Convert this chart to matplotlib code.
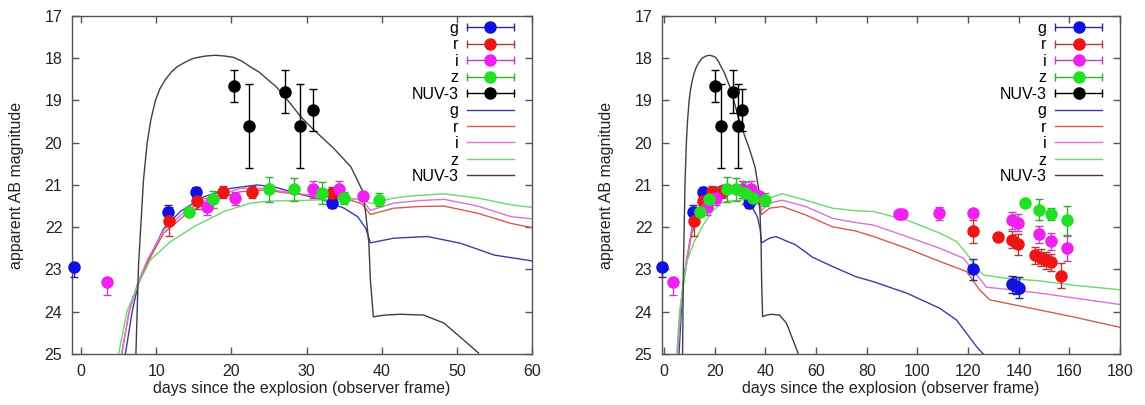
"""Light curves of the transient with model predictions, early and full coverage"""

import numpy as np
import matplotlib.pyplot as plt
from matplotlib.container import ErrorbarContainer
from matplotlib.legend_handler import HandlerBase
from matplotlib.lines import Line2D

plt.rcParams['font.family'] = ['Liberation Sans', 'DejaVu Sans']

# observed photometry: days since explosion, AB mag,
# error towards brighter (minus) and fainter (plus) magnitudes
g_t = [-1.0, 11.6, 15.3, 33.4, 122.1, 137.3, 138.8, 140.2]
g_mag = [22.93, 21.63, 21.17, 21.42, 23.00, 23.35, 23.39, 23.43]
g_err_minus = [0.0, 0.15, 0.12, 0.12, 0.25, 0.2, 0.2, 0.25]
g_err_plus = [0.25, 0.15, 0.12, 0.12, 0.25, 0.2, 0.2, 0.25]

r_t = [11.7, 15.4, 18.9, 22.7, 33.4, 122.1, 131.9, 137.5, 139.9,
       146.3, 148.7, 150.7, 152.9, 156.6]
r_mag = [21.86, 21.37, 21.17, 21.17, 21.20, 22.10, 22.22, 22.30, 22.40,
         22.66, 22.72, 22.78, 22.83, 23.15]
r_err_minus = [0.35, 0.2, 0.15, 0.15, 0.15, 0.28, 0.05, 0.2, 0.25,
               0.2, 0.2, 0.2, 0.2, 0.3]
r_err_plus = r_err_minus

i_t = [3.5, 16.8, 20.5, 30.9, 34.3, 37.5, 92.6, 94.0, 108.6, 122.1,
       137.5, 139.9, 148.0, 152.9, 158.9]
i_mag = [23.30, 21.51, 21.32, 21.10, 21.10, 21.27, 21.69, 21.69, 21.67, 21.67,
         21.84, 21.89, 22.17, 22.33, 22.50]
i_err_minus = [0.0, 0.2, 0.15, 0.2, 0.2, 0.1, 0.05, 0.05, 0.15, 0.1,
               0.2, 0.2, 0.2, 0.2, 0.3]
i_err_plus = [0.3, 0.2, 0.15, 0.2, 0.2, 0.1, 0.05, 0.05, 0.15, 0.1,
              0.2, 0.2, 0.2, 0.2, 0.3]

z_t = [14.3, 17.6, 25.0, 28.3, 32.1, 35.0, 39.7, 142.5, 148.0, 152.9, 158.9]
z_mag = [21.63, 21.34, 21.10, 21.10, 21.18, 21.31, 21.35, 21.42, 21.59, 21.69, 21.84]
z_err_minus = [0.1, 0.2, 0.3, 0.27, 0.26, 0.15, 0.15, 0.03, 0.25, 0.15, 0.35]
z_err_plus = z_err_minus

nuv_t = [20.3, 22.3, 27.1, 29.2, 30.9]
nuv_mag = [18.66, 19.60, 18.79, 19.60, 19.22]
nuv_err_minus = [0.37, 1.0, 0.5, 1.0, 0.5]
nuv_err_plus = nuv_err_minus

# model light curves, rise and first peak (both panels)
g_rise_t = [5.9, 6.8, 7.6, 8.8, 11.0, 13.2, 16.3, 19.9, 23.4, 25.6, 28.8,
            32.3, 35.0, 36.8, 37.9, 38.5, 41.6]
g_rise_m = [25.0, 24.0, 23.35, 22.85, 22.03, 21.63, 21.28, 21.08, 21.0, 21.04, 21.2,
            21.36, 21.55, 21.75, 22.03, 22.37, 22.26]
r_rise_t = [5.4, 6.4, 7.6, 8.8, 11.0, 14.1, 17.6, 21.2, 24.3, 27.9, 31.4,
            35.0, 37.4, 38.5, 41.6]
r_rise_m = [25.0, 24.0, 23.3, 22.85, 22.14, 21.67, 21.36, 21.16, 21.12, 21.2, 21.27,
            21.31, 21.45, 21.7, 21.55]
i_rise_t = [5.4, 6.4, 7.6, 8.8, 11.0, 14.1, 17.6, 21.2, 24.3, 27.9, 31.4,
            35.0, 37.4, 38.5, 41.6]
i_rise_m = [25.0, 24.0, 23.3, 22.78, 22.07, 21.59, 21.28, 21.08, 21.08, 21.18, 21.26,
            21.29, 21.36, 21.6, 21.43]
z_rise_t = [5.0, 6.1, 7.6, 9.2, 11.9, 15.4, 19.0, 22.5, 25.2, 28.8, 32.3,
            35.5, 37.6, 38.5, 41.6]
z_rise_m = [25.0, 24.0, 23.35, 22.78, 22.34, 21.95, 21.63, 21.43, 21.38, 21.37, 21.35,
            21.33, 21.35, 21.44, 21.31]

# model tails out to 60 days
g_tail_t = [46.1, 50.5, 55.0, 60.5]
g_tail_m = [22.22, 22.38, 22.66, 22.81]
r_tail_t = [45.0, 48.3, 52.8, 57.2, 60.5]
r_tail_m = [21.51, 21.50, 21.67, 21.91, 22.03]
i_tail_t = [45.0, 48.3, 52.8, 57.2, 60.5]
i_tail_m = [21.37, 21.34, 21.50, 21.75, 21.81]
z_tail_t = [44.5, 48.3, 52.8, 57.2, 60.5]
z_tail_m = [21.25, 21.21, 21.31, 21.47, 21.54]

# model tails out to 180 days
g_late_t = [44.1, 52.0, 58.6, 66.5, 75.7, 82.7, 95.8, 108.9, 115.5, 119.4, 123.4, 126.0]
g_late_m = [22.22, 22.42, 22.71, 22.93, 23.17, 23.29, 23.56, 23.92, 24.20, 24.51, 24.83, 25.0]
r_late_t = [46.7, 55.9, 66.5, 75.7, 82.7, 95.8, 108.9, 119.4, 124.7, 128.6,
            135.2, 148.3, 161.4, 180.0]
r_late_m = [21.51, 21.71, 21.99, 22.09, 22.22, 22.50, 22.81, 23.05, 23.49, 23.72,
            23.80, 23.96, 24.12, 24.37]
i_late_t = [46.7, 55.9, 66.5, 75.7, 82.7, 95.8, 108.9, 118.1, 123.4, 127.3,
            135.2, 148.3, 161.4, 180.0]
i_late_m = [21.36, 21.51, 21.79, 21.89, 21.95, 22.22, 22.50, 22.73, 23.13, 23.42,
            23.47, 23.56, 23.67, 23.83]
z_late_t = [46.7, 55.9, 66.5, 75.7, 82.7, 95.8, 108.9, 115.5, 119.4, 123.4,
            126.0, 135.2, 148.3, 161.4, 180.0]
z_late_m = [21.21, 21.36, 21.55, 21.61, 21.63, 21.83, 22.14, 22.34, 22.62, 22.97,
            23.13, 23.21, 23.27, 23.37, 23.48]

nuv_model_t = [7.3, 7.65, 8.3, 8.8, 9.3, 9.9, 10.5, 11.2, 12.0, 12.8, 14.0, 15.0,
               16.5, 17.9, 19.2, 20.3, 21.5, 22.5, 23.7, 24.8, 26.0, 27.1, 28.2,
               29.2, 31.0, 33.6, 35.9, 37.4, 37.9, 38.3, 38.5, 38.9, 40.4,
               42.5, 45.6, 48.3, 50.9, 52.9]
nuv_model_m = [25.0, 22.9, 20.9, 20.0, 19.45, 19.0, 18.72, 18.51, 18.33, 18.2, 18.08, 18.0,
               17.95, 17.93, 17.95, 17.98, 18.08, 18.2, 18.33, 18.5, 18.68, 18.91, 19.15,
               19.38, 19.70, 20.13, 20.57, 21.12, 21.7, 22.38, 23.25, 24.12, 24.08,
               24.06, 24.08, 24.27, 24.67, 24.98]

POINT_COLORS = {'g': '#1010e0', 'r': '#ee1515', 'i': '#f020f0', 'z': '#22e022', 'NUV-3': 'black'}
BAR_COLORS = {'g': '#2a2a90', 'r': '#b03a3a', 'i': '#c040c0', 'z': '#30b030', 'NUV-3': 'black'}
MODEL_COLORS = {'g': '#3c3ca8', 'r': '#d85858', 'i': '#dc70dc', 'z': '#6ad86a', 'NUV-3': '#404040'}


class ErrbarHandler(HandlerBase):
    """Legend key: horizontal bar with end caps and a dot in the middle"""

    def create_artists(self, legend, orig_handle, xdescent, ydescent,
                       width, height, fontsize, trans):
        data_line, caplines, barcols = orig_handle.lines
        ecolor = barcols[0].get_edgecolor()[0]
        y = (height - ydescent) / 2
        x0, x1 = -xdescent, -xdescent + width
        bar = Line2D([x0, x1], [y, y], color=ecolor, lw=1)
        caps = Line2D([x0, x1], [y, y], ls='none', marker='|', ms=6,
                      mew=1, color=ecolor)
        dot = Line2D([(x0 + x1) / 2], [y], ls='none', marker='o', ms=8,
                     color=data_line.get_color())
        for a in (bar, caps, dot):
            a.set_transform(trans)
        return [bar, caps, dot]


def plot_points(ax, band, t, mag, err_minus, err_plus, tmax):
    t = np.asarray(t)
    keep = t <= tmax
    eb = ax.errorbar(t[keep], np.asarray(mag)[keep],
                     yerr=[np.asarray(err_minus)[keep], np.asarray(err_plus)[keep]],
                     fmt='o', ms=8, color=POINT_COLORS[band],
                     ecolor=BAR_COLORS[band], elinewidth=1, capsize=3,
                     capthick=1, zorder=4)
    data_line, caplines, barcols = eb.lines
    data_line.set_clip_on(False)
    for a in (*caplines, *barcols):
        a.set_clip_on(False)
    return eb


def plot_panel(fig, rect, tmax, xticks, tails):
    ax = fig.add_axes(rect)

    handles = []
    handles.append(plot_points(ax, 'g', g_t, g_mag, g_err_minus, g_err_plus, tmax))
    handles.append(plot_points(ax, 'r', r_t, r_mag, r_err_minus, r_err_plus, tmax))
    handles.append(plot_points(ax, 'i', i_t, i_mag, i_err_minus, i_err_plus, tmax))
    handles.append(plot_points(ax, 'z', z_t, z_mag, z_err_minus, z_err_plus, tmax))
    handles.append(plot_points(ax, 'NUV-3', nuv_t, nuv_mag, nuv_err_minus,
                               nuv_err_plus, tmax))

    rises = {'g': (g_rise_t, g_rise_m), 'r': (r_rise_t, r_rise_m),
             'i': (i_rise_t, i_rise_m), 'z': (z_rise_t, z_rise_m)}
    for band in ['g', 'r', 'i', 'z']:
        t = rises[band][0] + tails[band][0]
        m = rises[band][1] + tails[band][1]
        line, = ax.plot(t, m, color=MODEL_COLORS[band], lw=1, zorder=3)
        handles.append(line)
    line, = ax.plot(nuv_model_t, nuv_model_m, color=MODEL_COLORS['NUV-3'],
                    lw=1, zorder=3)
    handles.append(line)

    labels = ['g', 'r', 'i', 'z', 'NUV-3'] * 2
    ax.legend(handles, labels, loc='upper right', bbox_to_anchor=(0.96, 0.985),
              frameon=False, markerfirst=False, fontsize=11.5,
              handlelength=2.9, handletextpad=0.55, labelspacing=0.09,
              borderpad=0, borderaxespad=0,
              handler_map={ErrorbarContainer: ErrbarHandler()})

    ax.set_xlim(xticks[0] - (1.2 if tmax < 100 else 0.8), tmax)
    ax.set_ylim(25, 17)
    ax.set_xticks(xticks)
    ax.set_yticks(range(17, 26))
    ax.tick_params(direction='in', top=True, right=True, length=5, width=1,
                   color='#555555', labelcolor='#222222', labelsize=11.5, pad=7)
    for spine in ax.spines.values():
        spine.set_color('#555555')
        spine.set_linewidth(1)
    ax.set_xlabel('days since the explosion (observer frame)', fontsize=11.5,
                  color='#222222', labelpad=2)
    ax.set_ylabel('apparent AB magnitude', fontsize=11.5, color='#222222',
                  labelpad=15)
    return ax


def plot_light_curves():
    fig = plt.figure(figsize=(11.45, 4.05), dpi=100)

    near = {'g': (g_tail_t, g_tail_m), 'r': (r_tail_t, r_tail_m),
            'i': (i_tail_t, i_tail_m), 'z': (z_tail_t, z_tail_m)}
    far = {'g': (g_late_t, g_late_m), 'r': (r_late_t, r_late_m),
           'i': (i_late_t, i_late_m), 'z': (z_late_t, z_late_m)}

    plot_panel(fig, [0.0629, 0.126, 0.4017, 0.8346], 60, list(range(0, 61, 10)), near)
    plot_panel(fig, [0.5782, 0.126, 0.4, 0.8346], 180, list(range(0, 181, 20)), far)

    fig.savefig('out.png', dpi=100)


if __name__ == "__main__":
    plot_light_curves()
